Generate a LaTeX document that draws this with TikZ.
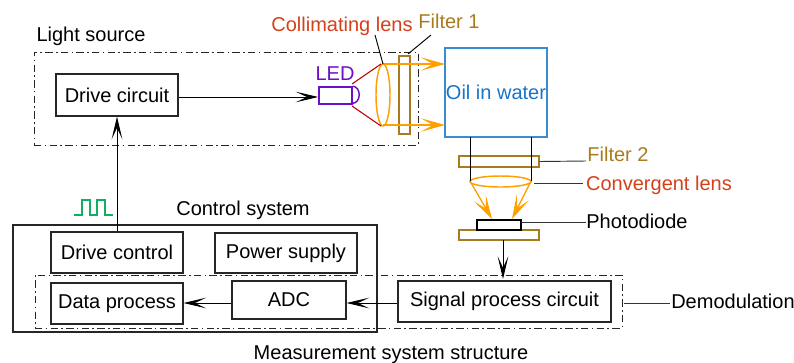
\documentclass[tikz,border=0pt]{standalone}
\usepackage{fontspec}
\setmainfont{Liberation Sans}
\usetikzlibrary{arrows.meta,shapes.geometric,calc}
\definecolor{brownf}{HTML}{A87B1E}
\definecolor{orangel}{HTML}{FFA000}
\definecolor{redl}{HTML}{C00000}
\definecolor{redt}{HTML}{D4401A}
\definecolor{bluet}{HTML}{1874C8}
\definecolor{blueb}{HTML}{3A8CD0}
\definecolor{purp}{HTML}{6A10C8}
\definecolor{greenp}{HTML}{10B060}
\tikzset{
  x=0.75pt,y=-0.75pt,
  lab/.style={font=\fontsize{15}{18}\selectfont,inner sep=0pt,anchor=base},
  blockbox/.style={draw=black!85,line width=0.85pt,inner sep=0pt,font=\fontsize{15}{18}\selectfont},
  dashbox/.style={draw=black!85,line width=0.7pt,dash pattern=on 5.5pt off 2.5pt on 1.2pt off 2.5pt,inner sep=0pt},
  filterbox/.style={draw=brownf,line width=1.1pt,inner sep=0pt},
  sw/.style={-{Stealth[inset=8.5pt,length=17pt,width=8pt]}},
  swo/.style={-{Stealth[inset=9pt,length=18pt,width=10pt]},draw=orangel,line width=1pt},
  conn/.style={draw=black,line width=0.7pt},
  ledr/.style={draw=redl,line width=0.8pt},
  lensl/.style={draw=orangel,line width=1.1pt,inner sep=0pt,ellipse},
}
\newcommand{\boxat}[6]{\node[#1,minimum width=#4*0.75pt-#2*0.75pt,minimum height=#5*0.75pt-#3*0.75pt] (#6) at ({(#2+#4)/2},{(#3+#5)/2})}
\begin{document}
\begin{tikzpicture}
\useasboundingbox (0,0) rectangle (794,362);
% outer frames
\boxat{dashbox}{34}{52}{418}{145}{lightbox} {};
\boxat{dashbox}{35}{275}{622}{328}{demodbox} {};
\boxat{blockbox}{13}{225}{377}{332}{controlbox} {};
% blocks
\boxat{blockbox}{56}{74}{178}{116}{drive} {Drive circuit};
\boxat{blockbox}{51}{232}{183}{273}{dctl} {Drive control};
\boxat{blockbox}{215}{233}{357}{273}{power} {Power supply};
\boxat{blockbox}{51}{283}{183}{324}{data} {Data process};
\boxat{blockbox}{232}{281}{346}{319}{adc} {ADC};
\boxat{blockbox}{398}{281}{611}{322}{signal} {Signal process circuit};
% LED
\boxat{draw=purp,line width=1.1pt}{319}{87}{352}{104}{led} {};
\draw[draw=purp,line width=1.1pt] (led.north east) arc[start angle=90,end angle=-90,x radius=6.5*0.75pt,y radius=8.5*0.75pt];
% lens 1, filter 1, oil
\boxat{lensl}{376}{64}{390}{126}{lensa} {};
\boxat{filterbox}{399}{56}{410}{134}{filtera} {};
\boxat{draw=blueb,line width=1pt,text=bluet,font=\fontsize{15}{18}\selectfont,inner sep=0pt}{445}{48}{547}{137}{oil} {Oil in water};
% lower optics
\boxat{filterbox}{459}{156}{539}{167}{filterb} {};
\boxat{lensl}{470}{176}{531}{187}{lensb} {};
\boxat{filterbox}{459}{230}{539}{240}{base} {};
\boxat{draw=black,line width=1.2pt,inner sep=0pt}{477}{220}{521}{230}{pd} {};
% coordinates
\coordinate (oiltl) at (445,64); \coordinate (oilbl) at (445,125);
\coordinate (la) at (470,137); \coordinate (lb) at (531,137);
\coordinate (lc) at (470,181); \coordinate (ld) at (531,181);
\coordinate (pa) at (492,219); \coordinate (pb) at (512,219);
\coordinate (rowy) at (0,303);
\coordinate (drvy) at (0,97);
% text labels
\node[lab] (tlight) at (91,41) {Light source};
\node[lab,text=purp] (tled) at (335,80) {LED};
\node[lab,text=redt] (tcoll) at (342,31) {Collimating lens};
\node[lab,text=brownf] (tf1) at (449,28) {Filter 1};
\node[lab,text=brownf] (tf2) at (618,161) {Filter 2};
\node[lab,text=redt] (tconv) at (659,190) {Convergent lens};
\node[lab] (tpd) at (637,228) {Photodiode};
\node[lab] (tdem) at (733,308) {Demodulation};
\node[lab] (tctl) at (243,215) {Control system};
\node[lab] (tmeas) at (391,359) {Measurement system structure};
% connectors
\draw[conn,sw] (drive.east |- drvy) -- (led.west |- drvy);
\draw[conn,sw] (dctl.north -| 117,232) -- (drive.south -| 117,0);
\draw[conn,sw] (adc.west |- rowy) -- (data.east |- rowy);
\draw[conn,sw] (signal.west |- rowy) -- (adc.east |- rowy);
\draw[conn,sw] (503,240) -- (503,279);
% LED rays
\draw[ledr] (352,84) -- (381,64);
\draw[ledr] (352,106) -- (381,126);
% beams
\draw[swo] (383,64) -- (oiltl);
\draw[swo] (383,125) -- (oilbl);
\draw[swo] (lc) -- (pa);
\draw[swo] (ld) -- (pb);
\draw[conn] (la) -- (lc);
\draw[conn] (lb) -- (ld);
% leaders
\draw[conn] (375,35) -- (383,64);
\draw[conn] (431,35) -- (408,54);
\draw[conn,black!80] (filterb.east) -- (586,161);
\draw[conn,black!80] (534,183) -- (583,183);
\draw[conn,black!80] (521,222) -- (586,222);
\draw[conn,black!80] (624,303) -- (670,303);
% pulse
\draw[draw=greenp,line width=0.8pt] (74,215) -- (82,215) -- (82,200) -- (90,200) -- (90,215) -- (97,215) -- (97,200) -- (105,200) -- (105,215) -- (113,215);
\end{tikzpicture}
\end{document}
